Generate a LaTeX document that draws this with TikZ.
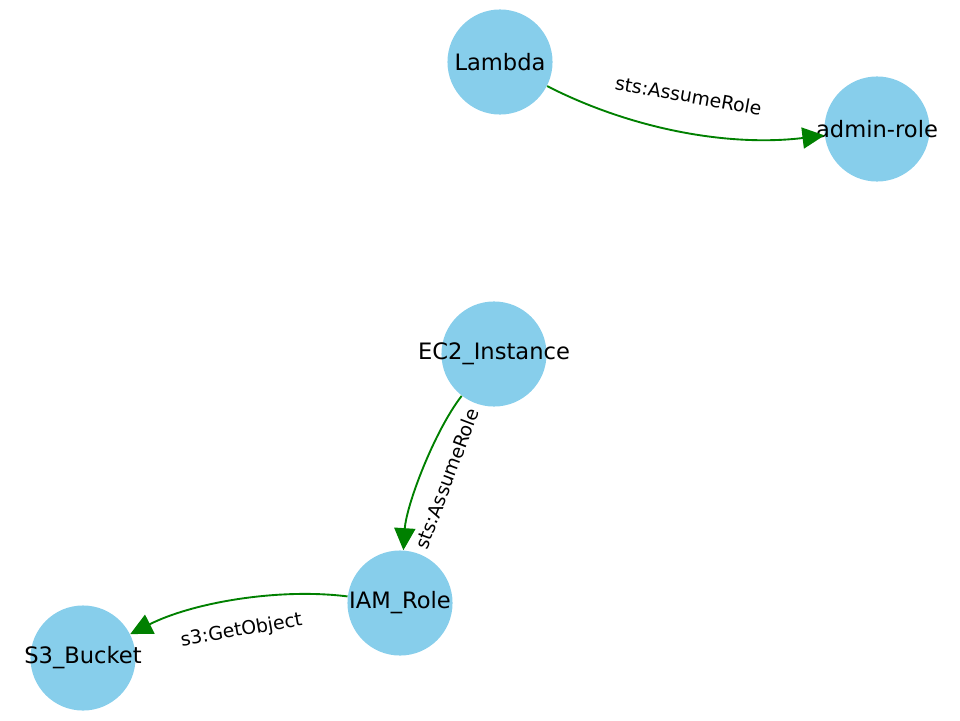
\documentclass[tikz,border=0pt]{standalone}
\usepackage{fontspec}
\setmainfont{DejaVu Sans}
\usetikzlibrary{arrows.meta}
\definecolor{himmelblau}{HTML}{87CEEB}
\definecolor{kantengruen}{HTML}{008000}
\newcommand{\pixelmass}{0.531pt}

\begin{document}
\begin{tikzpicture}[
  x=\pixelmass, y=\pixelmass,
  > = {Triangle[length=11.7pt,width=11.2pt]},
  knoten/.style = {circle, fill=himmelblau, minimum size=55.8pt, inner sep=0pt},
  every label/.style = {font=\fontsize{12}{14}\selectfont, inner sep=0pt},
  kante/.style = {->, draw=kantengruen, line width=1pt, bend right=17, looseness=#1},
  kantenlabel/.style = {sloped, font=\fontsize{10}{12}\selectfont, inner sep=0pt}
  ]
	\useasboundingbox (0,0) rectangle (960,720);

	\node[knoten,label={center:Lambda}] (lambda) at (500,658) {};
	\node[knoten,label={center:admin-role}] (adminrole) at (877,591) {};
	\node[knoten,label={center:EC2\_Instance}] (ec2) at (494,366) {};
	\node[knoten,label={center:IAM\_Role}] (iamrole) at (400,117) {};
	\node[knoten,label={center:S3\_Bucket}] (s3bucket) at (83,62) {};

	\draw[kante=0.87] (lambda) to (adminrole);
	\draw[kante=0.70] (ec2) to (iamrole);
	\draw[kante=0.81] (iamrole) to (s3bucket);

	% labels sit on the straight line between the nodes
	\path (lambda) -- node[kantenlabel] {sts:AssumeRole} (adminrole);
	\path (ec2) -- node[kantenlabel] {sts:AssumeRole} (iamrole);
	\path (iamrole) -- node[kantenlabel] {s3:GetObject} (s3bucket);

\end{tikzpicture}
\end{document}
